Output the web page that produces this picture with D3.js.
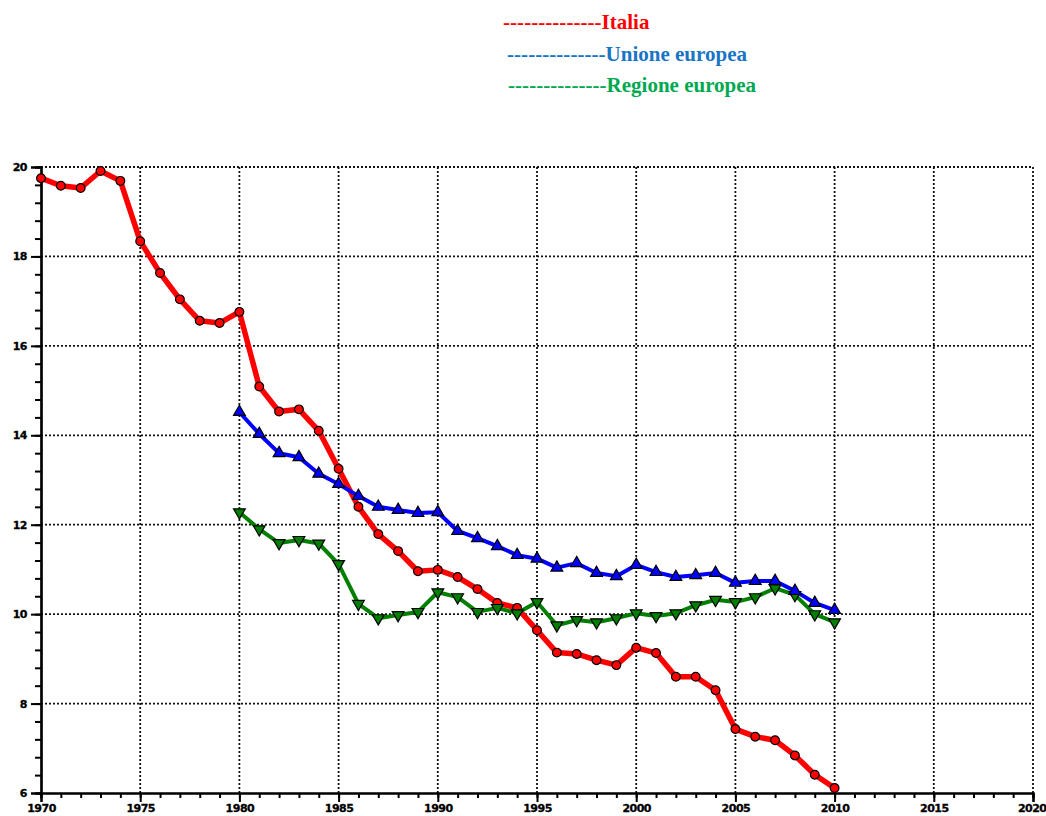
<!DOCTYPE html>
<html>
<head>
<meta charset="utf-8">
<script src="https://cdn.jsdelivr.net/npm/d3@7"></script>
<style>
  body { margin: 0; background: #fff; }
  svg { display: block; }
  .tick text { font-family: "DejaVu Sans", sans-serif; font-weight: bold; font-size: 11px; letter-spacing: -0.5px; }
</style>
</head>
<body>
<svg id="chart"></svg>
<script>
// dati
const yearsItalia = d3.range(1970, 2011);
const italia = [19.75, 19.58, 19.53, 19.91, 19.69, 18.34, 17.63, 17.04, 16.56, 16.51,
  16.76, 15.09, 14.53, 14.58, 14.10, 13.25, 12.40, 11.79, 11.41, 10.96,
  10.99, 10.83, 10.56, 10.25, 10.14, 9.64, 9.14, 9.11, 8.97, 8.86,
  9.25, 9.13, 8.60, 8.60, 8.30, 7.43, 7.26, 7.18, 6.84, 6.41, 6.11];

const yearsEuropa = d3.range(1980, 2011);
const unioneEuropea = [14.52, 14.03, 13.60, 13.51, 13.14, 12.91, 12.64, 12.40, 12.33, 12.26,
  12.28, 11.86, 11.70, 11.52, 11.32, 11.24, 11.04, 11.14, 10.92, 10.85,
  11.10, 10.94, 10.83, 10.87, 10.92, 10.70, 10.74, 10.74, 10.52, 10.25, 10.09];
const regioneEuropea = [12.28, 11.90, 11.59, 11.66, 11.58, 11.12, 10.23, 9.91, 9.98, 10.05,
  10.49, 10.38, 10.05, 10.14, 10.02, 10.27, 9.75, 9.87, 9.82, 9.91,
  10.02, 9.96, 10.02, 10.20, 10.32, 10.27, 10.38, 10.58, 10.43, 10.00, 9.82];

const xTicks = [1970, 1975, 1980, 1985, 1990, 1995, 2000, 2005, 2010, 2015, 2020];
const yTicks = [6, 8, 10, 12, 14, 16, 18, 20];

const legendLabels = ["Italia", "Unione europea", "Regione europea"];

const width = 1046;
const height = 816;

const svg = d3.select("#chart")
  .attr("width", width)
  .attr("height", height);

const x = d3.scaleLinear().domain([1970, 2020]).range([41, 1033]);
const y = d3.scaleLinear().domain([6, 20]).range([793, 167]);

// griglia tratteggiata
const grid = svg.append("g");
grid.selectAll(".hgrid")
  .data(yTicks.filter(d => d > 6))
  .join("line")
  .attr("x1", x(1970)).attr("x2", x(2020))
  .attr("y1", d => y(d)).attr("y2", d => y(d))
  .attr("stroke", "#111")
  .attr("stroke-width", 1.8)
  .attr("stroke-dasharray", "2,2");
grid.selectAll(".vgrid")
  .data(xTicks.filter(d => d > 1970))
  .join("line")
  .attr("x1", d => x(d)).attr("x2", d => x(d))
  .attr("y1", y(20)).attr("y2", y(6))
  .attr("stroke", "#111")
  .attr("stroke-width", 1.8)
  .attr("stroke-dasharray", "2,2");

// assi
const xMinor = svg.append("g")
  .attr("transform", `translate(0,${y(6)})`)
  .call(d3.axisBottom(x).tickValues(d3.range(1970, 2021)).tickSize(5).tickFormat(""));
const xAxis = svg.append("g")
  .attr("transform", `translate(0,${y(6)})`)
  .call(d3.axisBottom(x).tickValues(xTicks).tickSize(9).tickFormat(d3.format("d")));
xAxis.selectAll("text").attr("dy", 0).attr("y", 19);
// l'ultima etichetta resta dentro il bordo
xAxis.selectAll("text").filter(d => d === 2020).attr("text-anchor", "end").attr("x", 13);

const yMinor = svg.append("g")
  .attr("transform", `translate(${x(1970)},0)`)
  .call(d3.axisLeft(y).tickValues(d3.range(6, 20.01, 0.4)).tickSize(6).tickFormat(""));
const yAxis = svg.append("g")
  .attr("transform", `translate(${x(1970)},0)`)
  .call(d3.axisLeft(y).tickValues(yTicks).tickSize(10).tickFormat(d3.format("d")));
yAxis.selectAll("text").attr("x", -14);

[xMinor, xAxis, yMinor, yAxis].forEach(function (a) {
  a.select(".domain").attr("stroke", "#000").attr("stroke-width", 2.2);
  a.selectAll(".tick line").attr("stroke", "#000").attr("stroke-width", 2);
  a.selectAll(".tick text").attr("fill", "#000").attr("stroke", "#000").attr("stroke-width", 0.3);
});

// serie
const series = [
  { years: yearsItalia, values: italia, color: "#ff0000", width: 5.5, marker: "circle" },
  { years: yearsEuropa, values: regioneEuropea, color: "#007f00", width: 4, marker: "down" },
  { years: yearsEuropa, values: unioneEuropea, color: "#0000ff", width: 4, marker: "up" }
];

const line = d3.line().x(d => x(d[0])).y(d => y(d[1]));

series.forEach(function (s) {
  const pts = s.years.map((yr, i) => [yr, s.values[i]]);
  svg.append("path")
    .datum(pts)
    .attr("d", line)
    .attr("fill", "none")
    .attr("stroke", s.color)
    .attr("stroke-width", s.width)
    .attr("stroke-linejoin", "round");

  let sym;
  if (s.marker === "circle") sym = d3.symbol().type(d3.symbolCircle).size(60);
  else sym = d3.symbol().type(d3.symbolTriangle).size(60);

  svg.append("g").selectAll("path")
    .data(pts)
    .join("path")
    .attr("d", sym)
    .attr("transform", d => `translate(${x(d[0])},${y(d[1])})` + (s.marker === "down" ? " rotate(180)" : ""))
    .attr("fill", s.color)
    .attr("stroke", "#000")
    .attr("stroke-width", 1.2);
});

// legenda
const legendColors = ["#ff0000", "#1874c6", "#00a850"];
const legendPos = [[503, 29], [507, 61], [508, 92]];
const leg = svg.append("g").selectAll("text")
  .data(legendLabels)
  .join("text")
  .attr("x", (d, i) => legendPos[i][0])
  .attr("y", (d, i) => legendPos[i][1])
  .attr("fill", (d, i) => legendColors[i])
  .attr("font-family", "'Liberation Serif', 'Times New Roman', serif")
  .attr("font-weight", "bold")
  .attr("font-size", 21);
leg.append("tspan").attr("letter-spacing", 0.05).text("--------------");
leg.append("tspan").text(d => d);
</script>
</body>
</html>
